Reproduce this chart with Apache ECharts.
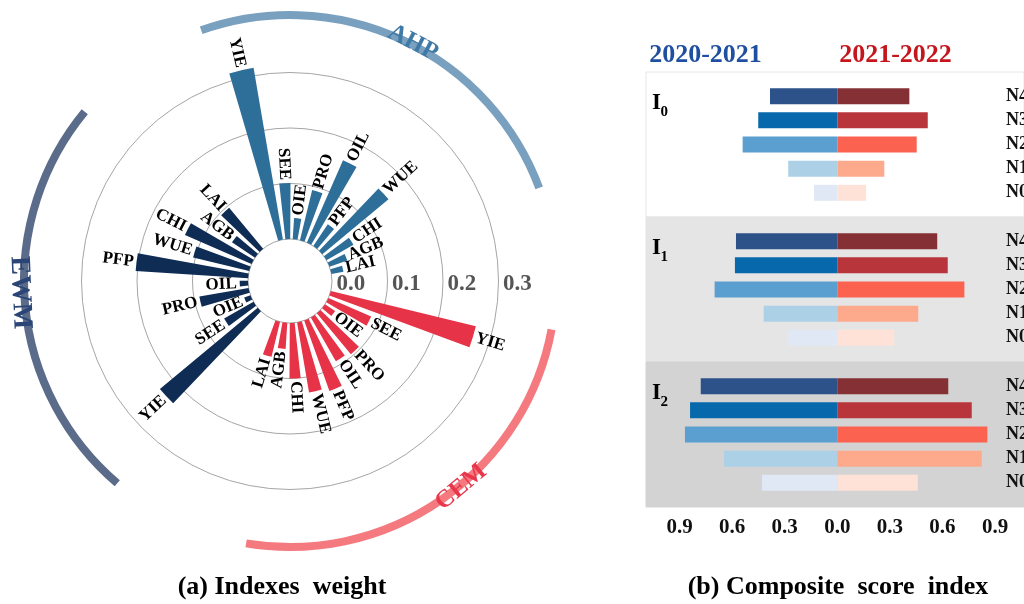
<!DOCTYPE html>
<html>
<head>
<meta charset="utf-8">
<script src="https://cdn.jsdelivr.net/npm/echarts@6.0.0/dist/echarts.min.js"></script>
<style>
  html, body { margin: 0; padding: 0; background: #ffffff; }
  #main { width: 1024px; height: 604px; }
</style>
</head>
<body>
<div id="main"></div>
<script>
// ---------- (a) indicator weights per weighting method ----------
const indicators = ['YIE', 'SEE', 'OIE', 'PRO', 'OIL', 'PFP', 'WUE', 'CHI', 'AGB', 'LAI'];
const cemWeights = [0.269, 0.084, 0.022, 0.096, 0.091, 0.135, 0.128, 0.100, 0.047, 0.065];
const ewmWeights = [0.229, 0.061, 0.012, 0.090, 0.015, 0.203, 0.104, 0.131, 0.050, 0.096];
const ahpWeights = [0.314, 0.101, 0.038, 0.093, 0.162, 0.047, 0.155, 0.056, 0.034, 0.022];
const methodNames = ['CEM', 'EWM', 'AHP'];
const radiusTicks = [0, 0.1, 0.2, 0.3];

// ---------- (b) composite score index ----------
const scoreLevels = ['N4', 'N3', 'N2', 'N1', 'N0'];
const periods = ['2020-2021', '2021-2022'];
const indexSubscripts = ['0', '1', '2'];
const i0Prev = [0.384, 0.451, 0.540, 0.280, 0.133];
const i0Next = [0.411, 0.516, 0.453, 0.268, 0.164];
const i1Prev = [0.578, 0.584, 0.700, 0.420, 0.283];
const i1Next = [0.570, 0.630, 0.725, 0.462, 0.325];
const i2Prev = [0.779, 0.840, 0.869, 0.646, 0.430];
const i2Next = [0.633, 0.767, 0.856, 0.824, 0.459];
const scoreTicks = [-0.9, -0.6, -0.3, 0, 0.3, 0.6, 0.9];

// ---------- layout & style ----------
const SERIF = '"Liberation Serif","Times New Roman",serif';
const CX = 290, CY = 281, R0 = 42, PX_PER_UNIT = 555, RMAX = 0.35;
const BAR_START_ANGLE = -2;            // degrees, bars start just below the right horizontal
const ARC_R = 266;
const gapsBefore = [1, 2, 2];          // empty angular slots ahead of each method group
const methodColor = { CEM: '#e63347', EWM: '#0f2c55', AHP: '#2e6f9a' };
const arcColor = { CEM: '#f47a80', EWM: '#5b6c8a', AHP: '#7aa0bf' };
const methodTextColor = { CEM: '#e8364b', EWM: '#2b4676', AHP: '#3f79a6' };
const methodTextPos = { CEM: [50.3, 268, 25], EWM: [177.5, 270, 28], AHP: [297.3, 268, 25] }; // [deg, radius, font]

const blues = ['#2d5189', '#0868ac', '#5a9fd0', '#acd0e6', '#e0e8f5'];
const reds = ['#843034', '#b8363b', '#fb6250', '#fdaa8c', '#fee2d8'];
const panelBg = ['#ffffff', '#e5e5e5', '#d3d3d3'];
const PANEL_LEFT = 646, PANEL_TOP = 72, PANEL_H = 145;
const ZERO_X = 837.3, PX_PER_SCORE = 175.3;

// angular slots: gaps + 10 indicators per method, one trailing gap
const slotNames = [];
const groupStart = [];
methodNames.forEach((m, g) => {
  for (let i = 0; i < gapsBefore[g]; i++) slotNames.push('gap' + slotNames.length);
  groupStart.push(slotNames.length);
  indicators.forEach(ind => slotNames.push(m + '-' + ind));
});
slotNames.push('gap' + slotNames.length);
const SLOT_DEG = 360 / slotNames.length;

const weightsByMethod = { CEM: cemWeights, EWM: ewmWeights, AHP: ahpWeights };

const series = [];
const labelData = [];
const labelNames = [];
methodNames.forEach((m, g) => {
  const data = slotNames.map(() => null);
  weightsByMethod[m].forEach((v, i) => {
    data[groupStart[g] + i] = v;
    labelData.push([v, groupStart[g] + i]);
    labelNames.push(indicators[i]);
  });
  series.push({
    type: 'bar', name: m, coordinateSystem: 'polar', polarIndex: 0,
    stack: 'weights', barWidth: '66%', data: data,
    itemStyle: { color: methodColor[m] }, z: 2, silent: true
  });
});

// indicator names at the bar tips, written along the radius
series.push({
  type: 'custom', coordinateSystem: 'polar', polarIndex: 0, silent: true, z: 5,
  data: labelData,
  renderItem: function (params, api) {
    const v = api.value(0), k = api.value(1);
    const tip = api.coord([v, k]);
    const base = api.coord([0, k]);
    let ux = tip[0] - base[0], uy = tip[1] - base[1];
    const len = Math.hypot(ux, uy) || 1;
    ux /= len; uy /= len;
    const theta = Math.atan2(uy, ux);
    const flip = ux < 0;
    const gap = 3;
    return {
      type: 'text',
      x: tip[0] + ux * gap, y: tip[1] + uy * gap,
      rotation: flip ? Math.PI - theta : -theta,
      style: {
        text: labelNames[params.dataIndex],
        align: flip ? 'right' : 'left', verticalAlign: 'middle',
        font: 'bold 17px ' + SERIF, fill: '#000000'
      }
    };
  }
});

// (b) diverging bars, one grid per index panel
const panels = [[i0Prev, i0Next], [i1Prev, i1Next], [i2Prev, i2Next]];
const grids = [], xAxes = [], yAxes = [];
const yCats = [''].concat(scoreLevels).concat([' ']);
const xMin = (PANEL_LEFT - ZERO_X) / PX_PER_SCORE;
const xMax = (1024 - ZERO_X) / PX_PER_SCORE;
panels.forEach((pair, p) => {
  grids.push({
    left: PANEL_LEFT, right: 0, top: PANEL_TOP + p * PANEL_H, height: PANEL_H,
    outerBoundsMode: 'none', containLabel: false,
    show: true, backgroundColor: panelBg[p],
    borderColor: p === 0 ? '#e6e6e6' : panelBg[p], borderWidth: 1
  });
  xAxes.push({
    gridIndex: p, type: 'value', min: xMin, max: xMax,
    axisLine: { show: false }, axisTick: { show: false }, splitLine: { show: false },
    axisLabel: {
      show: p === 2, customValues: scoreTicks,
      formatter: v => Math.abs(v).toFixed(1),
      fontFamily: SERIF, fontWeight: 'bold', fontSize: 21, color: '#111111', margin: 10
    }
  });
  yAxes.push({
    gridIndex: p, type: 'category', data: yCats, inverse: true, boundaryGap: false,
    position: 'right',
    axisLine: { show: false }, axisTick: { show: false }, splitLine: { show: false },
    axisLabel: {
      inside: true, align: 'left', margin: 18,
      fontFamily: SERIF, fontWeight: 'bold', fontSize: 18, color: '#111111'
    }
  });
  [0, 1].forEach(side => {
    const vals = pair[side];
    const pal = side === 0 ? blues : reds;
    series.push({
      type: 'bar', name: periods[side], xAxisIndex: p, yAxisIndex: p,
      barWidth: 16, barGap: '-100%', silent: true,
      data: scoreLevels.map((lv, j) => ({
        value: [side === 0 ? -vals[j] : vals[j], lv],
        itemStyle: { color: pal[j] }
      }))
    });
  });
});

// decorations: method arcs and their names, panel captions
const graphics = [];
methodNames.forEach((m, g) => {
  const a0 = (groupStart[g] * SLOT_DEG + 0.5) * Math.PI / 180;
  const a1 = ((groupStart[g] + indicators.length - 1) * SLOT_DEG - 0.5) * Math.PI / 180;
  graphics.push({
    type: 'arc', silent: true, z: 1,
    shape: { cx: CX, cy: CY, r: ARC_R, startAngle: a0, endAngle: a1, clockwise: true },
    style: { stroke: arcColor[m], lineWidth: 8, fill: null }
  });
  const pos = methodTextPos[m];
  const t = pos[0] * Math.PI / 180;
  const rotDeg = pos[0] < 180 ? 90 - pos[0] : 270 - pos[0];
  graphics.push({
    type: 'text', silent: true, z: 3,
    x: CX + pos[1] * Math.cos(t), y: CY + pos[1] * Math.sin(t),
    rotation: rotDeg * Math.PI / 180,
    style: {
      text: m, align: 'center', verticalAlign: 'middle',
      font: 'bold ' + pos[2] + 'px ' + SERIF, fill: methodTextColor[m]
    }
  });
});
indexSubscripts.forEach((sub, p) => {
  const top = PANEL_TOP + p * PANEL_H;
  graphics.push({
    type: 'text', silent: true, z: 10, x: 652, y: top + 31,
    style: { text: 'I', align: 'left', verticalAlign: 'middle', font: 'bold 23px ' + SERIF, fill: '#000' }
  });
  graphics.push({
    type: 'text', silent: true, z: 10, x: 660.5, y: top + 40,
    style: { text: sub, align: 'left', verticalAlign: 'middle', font: 'bold 15px ' + SERIF, fill: '#000' }
  });
});
graphics.push({
  type: 'text', silent: true, x: 705.5, y: 55,
  style: { text: periods[0], align: 'center', verticalAlign: 'middle', font: 'bold 26px ' + SERIF, fill: '#1f4fa0' }
});
graphics.push({
  type: 'text', silent: true, x: 895.5, y: 55,
  style: { text: periods[1], align: 'center', verticalAlign: 'middle', font: 'bold 26px ' + SERIF, fill: '#c4161c' }
});
graphics.push({
  type: 'text', silent: true, x: 282, y: 587,
  style: { text: '(a) Indexes  weight', align: 'center', verticalAlign: 'middle', font: 'bold 26px ' + SERIF, fill: '#000' }
});
graphics.push({
  type: 'text', silent: true, x: 838, y: 587,
  style: { text: '(b) Composite  score  index', align: 'center', verticalAlign: 'middle', font: 'bold 26px ' + SERIF, fill: '#000' }
});

const chart = echarts.init(document.getElementById('main'), null, { renderer: 'canvas' });
chart.setOption({
  animation: false,
  backgroundColor: '#ffffff',
  polar: [
    { center: [CX, CY], radius: [R0, R0 + RMAX * PX_PER_UNIT] },
    { center: [CX, CY], radius: [R0, R0 + RMAX * PX_PER_UNIT] }
  ],
  angleAxis: [{
    polarIndex: 0, type: 'category', data: slotNames, startAngle: BAR_START_ANGLE, clockwise: true,
    boundaryGap: true,
    axisLine: { show: false }, axisTick: { show: false }, axisLabel: { show: false },
    splitLine: { show: false }
  }, {
    // horizontal reference for the weight scale labels
    polarIndex: 1, type: 'value', min: 0, max: 360, startAngle: 0, clockwise: true,
    axisLine: { show: false }, axisTick: { show: false }, axisLabel: { show: false },
    splitLine: { show: false }
  }],
  radiusAxis: [{
    polarIndex: 0, type: 'value', min: 0, max: RMAX, interval: 0.1,
    axisLine: { show: false }, axisTick: { show: false }, axisLabel: { show: false },
    splitLine: {
      show: true,
      lineStyle: { color: ['#a5a5a5', '#a5a5a5', '#a5a5a5', '#a5a5a5', 'rgba(0,0,0,0)'], width: 1 }
    }
  }, {
    polarIndex: 1, type: 'value', min: 0, max: RMAX, interval: 0.1,
    axisLine: { show: false }, axisTick: { show: false }, splitLine: { show: false },
    axisLabel: {
      formatter: v => radiusTicks.some(t => Math.abs(t - v) < 1e-9) ? v.toFixed(1) : '',
      align: 'left', verticalAlign: 'middle', margin: -3.5, padding: [0, 0, 0, 4.5],
      fontFamily: SERIF, fontWeight: 'bold', fontSize: 23, color: '#555555'
    }
  }],
  grid: grids,
  xAxis: xAxes,
  yAxis: yAxes,
  series: series,
  graphic: graphics
});
</script>
</body>
</html>
